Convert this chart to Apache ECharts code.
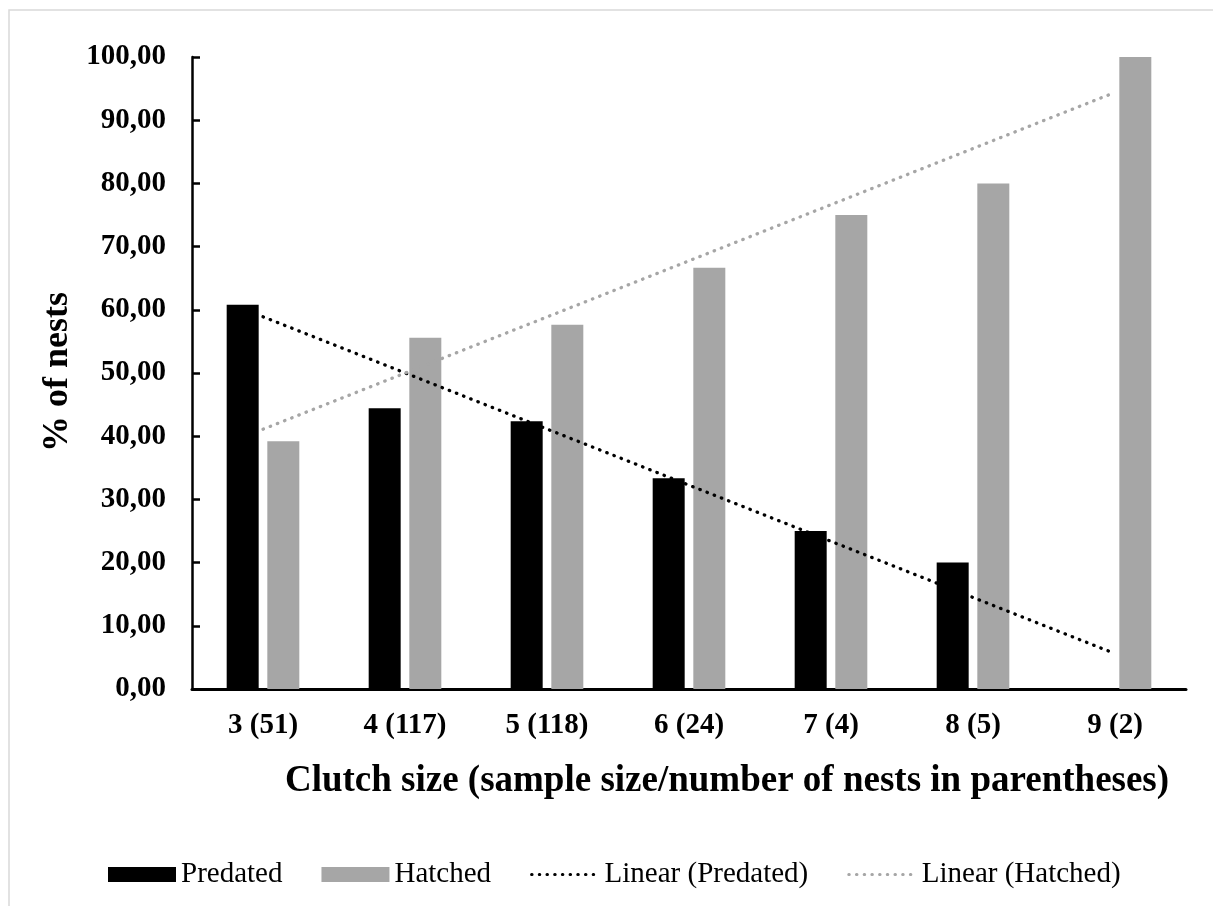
<!DOCTYPE html>
<html>
<head>
<meta charset="utf-8">
<script src="https://cdn.jsdelivr.net/npm/echarts@6/dist/echarts.min.js"></script>
<style>
html,body{margin:0;padding:0;background:#fff;}
#chart{width:1213px;height:906px;}
</style>
</head>
<body>
<div id="chart"></div>
<script>
const categories = ['3 (51)', '4 (117)', '5 (118)', '6 (24)', '7 (4)', '8 (5)', '9 (2)'];
const predated = [60.78, 44.44, 42.37, 33.33, 25.00, 20.00, 0];
const hatched = [39.22, 55.56, 57.63, 66.67, 75.00, 80.00, 100.00];
// trend line end values (first and last category)
const trendPredated = [58.9, '-', '-', '-', '-', '-', 5.6];
const trendHatched = [41.1, '-', '-', '-', '-', '-', 94.4];
const yTicks = { min: 0, max: 100, interval: 10 };

const FONT = "'Liberation Serif', 'Times New Roman', serif";
const chart = echarts.init(document.getElementById('chart'));
const hiddenSymbol = { color: 'rgba(0,0,0,0)', borderColor: 'rgba(0,0,0,0)', borderWidth: 0, opacity: 0 };

chart.setOption({
  animation: false,
  backgroundColor: '#ffffff',
  textStyle: { fontFamily: FONT },
  grid: { left: 192, right: 27, top: 57, bottom: 217, containLabel: false },
  legend: {
    left: 108,
    top: 860,
    padding: 0,
    itemWidth: 68,
    itemHeight: 15,
    itemGap: 39,
    textStyle: { fontFamily: FONT, fontSize: 29, color: '#000' },
    data: [
      { name: 'Predated', icon: 'rect' },
      { name: 'Hatched', icon: 'rect' },
      { name: 'Linear (Predated)', itemStyle: hiddenSymbol, lineStyle: { width: 3 } },
      { name: 'Linear (Hatched)', itemStyle: hiddenSymbol, lineStyle: { width: 3 } }
    ]
  },
  xAxis: {
    type: 'category',
    data: categories,
    axisLine: { show: true, lineStyle: { color: '#000', width: 3 } },
    axisTick: { show: false },
    axisLabel: { fontFamily: FONT, fontSize: 29, fontWeight: 'bold', color: '#000', margin: 22 },
    splitLine: { show: false }
  },
  yAxis: {
    type: 'value',
    min: yTicks.min,
    max: yTicks.max,
    interval: yTicks.interval,
    axisLine: { show: true, lineStyle: { color: '#000', width: 2.5 } },
    axisTick: { show: true, inside: true, length: 8, lineStyle: { color: '#000', width: 2.5 } },
    axisLabel: {
      fontFamily: FONT, fontSize: 29, fontWeight: 'bold', color: '#000', margin: 26,
      formatter: v => v.toFixed(2).replace('.', ',')
    },
    splitLine: { show: false }
  },
  series: [
    {
      name: 'Predated', type: 'bar', data: predated,
      barWidth: 32, barGap: '27%',
      itemStyle: { color: '#000000' }
    },
    {
      name: 'Hatched', type: 'bar', data: hatched,
      barWidth: 32,
      itemStyle: { color: '#a6a6a6' }
    },
    {
      name: 'Linear (Predated)', type: 'line', data: trendPredated,
      connectNulls: true, symbol: 'none', showSymbol: false,
      lineStyle: { color: '#000000', width: 3.3, type: [0.5, 7.2], cap: 'round' },
      itemStyle: { color: '#000000' },
      z: 5
    },
    {
      name: 'Linear (Hatched)', type: 'line', data: trendHatched,
      connectNulls: true, symbol: 'none', showSymbol: false,
      lineStyle: { color: '#a6a6a6', width: 3.3, type: [0.5, 7.2], cap: 'round' },
      itemStyle: { color: '#a6a6a6' },
      z: 5
    }
  ],
  graphic: [
    {
      type: 'rect', silent: true, z: -10,
      shape: { x: 9, y: 10, width: 1400, height: 1200 },
      style: { fill: 'none', stroke: '#d9d9d9', lineWidth: 1.5 }
    },
    {
      type: 'text', silent: true,
      x: 58, y: 372, rotation: Math.PI / 2,
      style: {
        text: '% of nests', font: "bold 36px " + FONT, fill: '#000',
        textAlign: 'center', textVerticalAlign: 'middle'
      }
    },
    {
      type: 'text', silent: true,
      x: 727, y: 781,
      style: {
        text: 'Clutch size (sample size/number of nests in parentheses)',
        font: "bold 37px " + FONT, fill: '#000',
        textAlign: 'center', textVerticalAlign: 'middle'
      }
    }
  ]
});
</script>
</body>
</html>
